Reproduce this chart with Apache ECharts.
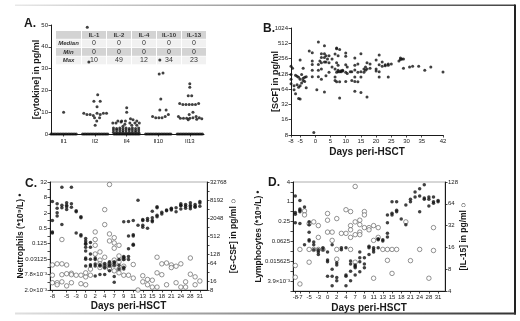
<!DOCTYPE html>
<html>
<head>
<meta charset="utf-8">
<script src="https://cdn.jsdelivr.net/npm/echarts@6/dist/echarts.min.js"></script>
<style>
  html, body { margin: 0; padding: 0; background: #fff; }
  #chart { width: 520px; height: 321px; }
</style>
</head>
<body>
<div id="chart"></div>
<script>
// ---- panel A: cytokines (offset within category, pg/ml) ----
const cytokines = ["Il1", "Il2", "Il4", "Il10", "Il13"];
const zeroOffsets = [-0.4, -0.35, -0.3, -0.25, -0.2, -0.15, -0.1, -0.05, 0, 0.05, 0.1, 0.15, 0.2, 0.25, 0.3, 0.35, 0.4];
const il1 = [[0, 10]];
const il2 = [[-0.25, 49], [-0.2, 33], [0.08, 18], [-0.04, 15], [0.16, 15], [0.06, 12.5], [-0.36, 9.5], [-0.26, 9],
  [-0.16, 9], [-0.06, 8.5], [0.06, 9.5], [0.16, 9], [0.26, 9.5], [0.36, 9.5], [-0.02, 7.5], [0.14, 7.5], [0.05, 6], [0, 4]];
const il4 = [[0, 12], [0, 10], [0.12, 7], [-0.28, 6], [-0.16, 6], [-0.04, 6], [0.32, 6], [0.2, 6.5], [-0.44, 5], [-0.34, 5],
  [-0.18, 5.5], [0.1, 5], [0.26, 5], [0.4, 5], [-0.06, 4.5], [0.16, 4], [-0.12, 3.5], [0.32, 4],
  [-0.42, 0.8], [-0.42, 1.8], [-0.42, 2.8], [-0.32, 0.8], [-0.32, 1.8], [-0.32, 2.5], [-0.22, 0.8], [-0.22, 1.8], [-0.22, 2.8],
  [-0.12, 0.8], [-0.12, 1.6], [-0.12, 2.5], [-0.02, 0.8], [-0.02, 1.8], [-0.02, 2.8], [0.08, 0.8], [0.08, 1.8], [0.08, 2.5],
  [0.18, 0.8], [0.18, 1.8], [0.18, 2.8], [0.28, 0.8], [0.28, 1.6], [0.28, 2.5], [0.38, 0.8], [0.38, 1.8], [0.38, 2.8]];
const il10 = [[0.05, 34], [0.15, 28], [0.03, 27.5], [0.08, 16], [0.05, 11], [0.25, 11], [0.32, 9], [-0.18, 8],
  [-0.08, 7.5], [0.02, 7.5], [0.12, 7.5], [0.22, 8]];
const il13 = [[0, 23], [0, 21.5], [-0.05, 17.5], [0.06, 17.5], [-0.32, 14], [-0.22, 13.5], [-0.12, 13.5], [-0.02, 13.5],
  [0.08, 13.5], [0.18, 13.5], [0.28, 14], [0.1, 10], [-0.02, 9], [-0.36, 8], [-0.3, 7.2], [-0.2, 7.2], [-0.1, 7.2],
  [0, 7.2], [0.1, 7.5], [0.2, 8], [0.3, 7.5], [0.38, 7], [-0.05, 6.5], [0.22, 6.8]];

// summary table inside panel A
const tableHeads = ["IL-1", "IL-2", "IL-4", "IL-10", "IL-13"];
const tableRows = ["Median", "Min", "Max"];
const medians = [0, 0, 0, 0, 0];
const mins = [0, 0, 0, 0, 0];
const maxs = [10, 49, 12, 34, 23];

// ---- panel B: SCF (day, pg/ml) ----
const bTicks = [-8, -5, 0, 5, 10, 15, 20, 25, 30, 35, 42];
const bYTicks = [8, 16, 32, 64, 128, 256, 512, 1024];
const scf = [[-8, 180], [-8, 124], [-8, 82], [-8, 100], [-7.5, 165], [-7, 75], [-7, 62], [-6.5, 120], [-6.5, 52], [-6, 78],
  [-6, 115], [-5.5, 42], [-5.5, 70], [-5.5, 110], [-5, 240], [-5, 100], [-5, 41], [-5, 75], [-4.5, 85], [-4.5, 125],
  [-4, 95], [-4, 165], [-4, 105], [-3.5, 110], [-3.5, 90], [-3, 68], [-3, 112], [-2, 360], [-1, 335], [-1, 230],
  [-1, 195], [-1, 150], [-1, 112], [-0.5, 9], [0.5, 62], [1, 540], [1, 195], [1, 150], [1, 112], [1.5, 230], [2, 320],
  [2, 270], [2, 213], [2, 160], [2, 100], [3, 460], [3, 320], [3, 270], [3, 220], [3, 56], [3.5, 290], [3.5, 220],
  [3.5, 118], [4, 250], [4.5, 290], [4.5, 213], [4.5, 137], [5.5, 250], [5.5, 175], [6.5, 314], [6.5, 160], [6.5, 111],
  [6.5, 95], [7, 415], [7, 400], [7, 213], [7, 137], [7, 89], [7.5, 290], [7.5, 190], [7.5, 141], [7.5, 150], [8, 385],
  [8, 141], [8, 89], [8, 43], [8.5, 148], [8.5, 141], [9, 150], [9, 145], [10, 330], [10, 284], [10, 194], [10, 137],
  [10, 91], [10.5, 175], [10.5, 130], [11.5, 141], [12, 141], [12, 95], [13, 263], [13, 190], [13, 152], [13, 111],
  [13, 91], [13, 58], [14, 200], [14, 137], [14, 89], [15, 320], [15, 141], [15, 111], [15, 55], [16, 160], [16, 137],
  [16.5, 175], [16.5, 150], [17, 213], [17, 160], [17, 45], [18, 200], [18, 165], [20, 240], [20, 160], [20, 145],
  [21, 300], [21, 194], [21, 141], [21, 111], [22, 220], [22, 180], [23, 194], [23, 185], [24, 200], [24, 111],
  [24, 190], [25, 200], [27.5, 230], [28, 263], [28, 245], [28.5, 250], [29, 250], [29, 165], [31, 175], [32, 180],
  [34, 180], [36, 150], [38, 175], [42, 140]];

// ---- panels C and D: sampled days (ordinal axis) ----
const days = [-8, -7, -6, -5, -4, -3, -1, 0, 1, 2, 3, 4, 5, 7, 8, 9, 10, 11, 12, 13, 14, 15, 16, 18, 20, 21, 22, 24, 26, 28, 30, 31];
const cLabelDays = [-8, -5, -3, 0, 2, 4, 7, 9, 11, 13, 15, 18, 21, 24, 28, 31];
const dLabelDays = [-7, -5, -3, 0, 2, 4, 7, 9, 11, 13, 15, 18, 21, 24, 28, 31];
const dExtraLabelDays = [-8]; // squeezed against -7 in the original

const cLeftTicks = [0.001953125, 0.0078125, 0.03125, 0.125, 0.5, 2, 8, 32];
const cLeftText = ["2.0×10⁻³", "7.8×10⁻³", "0.03125", "0.125", "0.5", "2", "8", "32"];
const cRightTicks = [8, 16, 64, 128, 512, 2048, 8192, 32768];
const dLeftTicks = [0.00390625, 0.015625, 0.0625, 0.25, 1, 4];
const dLeftText = ["3.9×10⁻³", "0.015625", "0.0625", "0.25", "1", "4"];
const dRightTicks = [4, 8, 16, 32, 64, 128];

// neutrophils (*10^9/L) and G-CSF (pg/ml)
const neutro = [[-8, 1], [-8, 0.33], [-8, 0.36], [-8, 5.5], [-7, 4.5], [-7, 3], [-7, 2], [-7, 1.5], [-6, 20], [-6, 3.2],
  [-6, 4], [-6, 0.7], [-5, 5], [-5, 3.5], [-5, 2.7], [-5, 4], [-4, 20], [-4, 4.5], [-4, 3.3], [-3, 2.2], [-3, 2.4],
  [-3, 0.33], [-1, 1.3], [-1, 1.4], [-1, 0.25], [-1, 0.28], [0, 0.2], [0, 0.16], [0, 0.13], [0, 0.09], [0, 0.065],
  [0, 0.035], [0, 0.031], [0, 0.017], [0, 0.12], [1, 0.14], [1, 0.09], [1, 0.05], [1, 0.031], [1, 0.017], [1, 0.019],
  [2, 0.035], [2, 0.02], [2, 0.017], [2, 0.0068], [2, 0.03], [3, 0.017], [3, 0.019], [3, 0.0078], [4, 0.017], [4, 0.021],
  [4, 0.014], [4, 0.0078], [5, 0.017], [5, 0.025], [5, 0.011], [5, 0.02], [7, 0.022], [7, 0.018], [7, 0.0065],
  [7, 0.0039], [7, 0.025], [8, 0.013], [8, 0.03], [8, 0.018], [9, 0.013], [9, 0.015], [9, 0.03], [9, 0.035], [9, 0.9],
  [9, 0.04], [10, 0.04], [10, 0.08], [10, 0.25], [10, 0.93], [10, 0.03], [11, 0.11], [11, 0.12], [11, 0.28], [11, 1],
  [11, 0.25], [12, 6.2], [12, 0.65], [13, 0.65], [13, 1], [13, 0.55], [13, 1.1], [14, 0.5], [14, 1], [14, 1.2],
  [15, 2.3], [15, 1], [15, 1.3], [15, 0.9], [16, 1.6], [16, 1.4], [16, 3.5], [16, 3.2], [18, 1.8], [18, 2.1], [20, 2.4],
  [20, 2.6], [21, 2.6], [21, 2.8], [21, 3], [22, 2.2], [22, 3.2], [24, 4], [24, 4.5], [24, 3.8], [24, 2.8], [26, 4.2],
  [26, 3.6], [26, 3], [28, 5], [28, 4], [28, 3.5], [28, 2.9], [30, 3.6], [30, 4.2], [30, 3.3], [31, 4.8], [31, 5.5], [31, 3.6]];
const gcsf = [[-8, 55], [-8, 14], [-8, 25], [-7, 60], [-7, 14], [-7, 12], [-6, 60], [-6, 390], [-6, 26], [-6, 15],
  [-5, 55], [-5, 28], [-5, 11], [-4, 29], [-4, 14], [-4, 26], [-3, 25], [-1, 25], [-1, 13], [0, 22], [0, 12], [0, 30],
  [1, 40], [1, 25], [2, 700], [2, 390], [2, 250], [2, 128], [3, 150], [3, 80], [3, 60], [3, 45], [4, 3900], [4, 1230],
  [4, 100], [4, 50], [5, 27000], [5, 600], [5, 350], [5, 60], [5, 45], [5, 40], [7, 450], [7, 300], [7, 200], [7, 80],
  [7, 55], [7, 35], [8, 250], [8, 110], [8, 70], [8, 40], [8, 30], [9, 90], [9, 50], [9, 25], [10, 25], [11, 57],
  [11, 20], [12, 8], [13, 15], [13, 24], [14, 18], [14, 12], [15, 17], [15, 10], [16, 100], [16, 30], [16, 10], [18, 26],
  [18, 60], [20, 64], [20, 12], [21, 55], [21, 45], [22, 50], [22, 14], [24, 60], [24, 10], [26, 10], [26, 15], [28, 94],
  [28, 27], [30, 22], [30, 12], [31, 16]];

// lymphocytes (*10^9/L) and IL-15 (pg/ml)
const lympho = [[-8, 1.5], [-8, 0.47], [-8, 0.42], [-8, 0.23], [-7, 1.1], [-7, 0.5], [-7, 0.55], [-7, 0.22], [-7, 0.6],
  [-6, 0.05], [-6, 0.7], [-5, 0.25], [-5, 0.2], [-5, 0.12], [-5, 0.065], [-5, 0.07], [-4, 0.06], [-4, 0.035], [-4, 0.05],
  [-3, 0.03], [-3, 0.025], [-3, 0.035], [-1, 0.035], [-1, 0.04], [0, 0.017], [0, 0.0055], [0, 0.03], [0, 0.015],
  [1, 0.0055], [1, 0.0028], [1, 0.05], [1, 0.009], [2, 0.014], [2, 0.012], [2, 0.005], [2, 0.004], [3, 0.04], [3, 0.035],
  [4, 0.0055], [4, 0.006], [4, 0.04], [4, 0.0028], [5, 0.0078], [5, 0.004], [5, 0.016], [5, 0.013], [7, 0.01], [7, 0.012],
  [7, 0.006], [7, 0.011], [8, 0.03], [8, 0.02], [8, 0.015], [8, 0.0075], [9, 0.02], [9, 0.013], [9, 0.01], [10, 0.04],
  [10, 0.045], [10, 0.025], [11, 0.035], [11, 0.04], [11, 0.03], [12, 0.07], [12, 0.075], [12, 0.04], [13, 0.07],
  [13, 0.065], [14, 0.085], [14, 0.11], [14, 0.4], [14, 0.23], [15, 0.4], [15, 1], [15, 0.45], [16, 1], [16, 0.5],
  [16, 0.55], [18, 0.3], [20, 0.2], [20, 0.8], [21, 1], [21, 1.2], [22, 2], [22, 1.4], [24, 1.5], [24, 2.5], [24, 0.5],
  [26, 1.3], [26, 1.2], [26, 3.3], [28, 1.4], [28, 0.75], [28, 1.2], [30, 1], [30, 1.4], [30, 0.9], [31, 1], [31, 1.1]];
const il15 = [[-8, 9], [-8, 6.2], [-7, 15], [-7, 5], [-6, 51], [-6, 45], [-5, 34], [-5, 15], [-5, 10], [-4, 36], [-4, 15],
  [-3, 32], [-3, 22], [-3, 15], [-1, 15], [0, 47], [0, 38], [0, 26], [1, 26], [1, 20], [2, 40], [2, 15], [2, 11], [3, 25],
  [4, 53], [4, 25], [5, 50], [5, 32], [5, 28], [5, 22], [5, 15], [7, 111], [7, 10], [7, 36], [7, 24], [8, 38], [8, 33],
  [8, 26], [8, 24], [9, 50], [9, 45], [9, 30], [10, 30], [10, 28], [11, 32], [11, 20], [11, 6], [12, 30], [12, 22],
  [13, 15], [14, 15], [14, 10.6], [15, 7], [15, 15], [16, 15], [20, 36], [21, 10.5], [24, 15], [28, 6], [30, 30], [30, 14.5]];

// ---------------------------------------------------------------
const FONT = "Liberation Sans, Arial, sans-serif";
const INK = "#1a1a1a";

function merge(a, b) {
  const out = Object.assign({}, a);
  for (const k in b) {
    if (b[k] && typeof b[k] === "object" && !Array.isArray(b[k]) && a[k] && typeof a[k] === "object") {
      out[k] = merge(a[k], b[k]);
    } else out[k] = b[k];
  }
  return out;
}

const axisBase = {
  axisLine: { show: true, onZero: false, lineStyle: { color: INK, width: 1 } },
  axisTick: { show: true, length: 2.5, lineStyle: { color: INK, width: 0.8 } },
  axisLabel: { fontSize: 6, color: INK, margin: 3, fontFamily: FONT, hideOverlap: false },
  splitLine: { show: false },
  nameLocation: "middle",
  nameMoveOverlap: false,
  nameTextStyle: { fontSize: 9, fontWeight: "bold", color: INK, fontFamily: FONT },
};
const ax = (extra) => merge(axisBase, extra);

function tickFmt(vals, texts) {
  return (v) => {
    const k = vals.findIndex((t) => Math.abs(t - v) / t < 1e-6);
    return k < 0 ? "" : String(texts ? texts[k] : vals[k]);
  };
}

const catDays = days.map(String).concat([""]);
const showDays = (list) => (idx) => list.includes(days[idx]);
const toCat = (arr) => arr.map((p) => [String(p[0]), p[1]]);

const aData = [];
[il1, il2, il4, il10, il13].forEach((pts, ci) => {
  zeroOffsets.forEach((o) => aData.push([ci + o, 0]));
  pts.forEach((p) => aData.push([ci + p[0], p[1]]));
});

// table graphic for panel A
const colX = [56, 82, 107, 132, 157, 182];
const colW = [26, 25, 25, 25, 25, 25];
const rowY = [31, 39.5, 48, 56.5];
const rowFill = ["#d3d3d3", "#f1f1f1", "#d3d3d3", "#f1f1f1"];
const tableEls = [];
const rowVals = [medians, mins, maxs];
for (let r = 0; r < 4; r++) {
  for (let c = 0; c < 6; c++) {
    tableEls.push({
      type: "rect", z: -1,
      shape: { x: colX[c], y: rowY[r], width: colW[c] - 1, height: 7.8 },
      style: { fill: rowFill[r] },
    });
    let txt = "";
    let font = "6px " + FONT;
    if (r === 0 && c > 0) { txt = tableHeads[c - 1]; font = "bold 6px " + FONT; }
    if (r > 0 && c === 0) { txt = tableRows[r - 1]; font = "italic bold 6px " + FONT; }
    if (r > 0 && c > 0) { txt = String(rowVals[r - 1][c - 1]); font = "7px " + FONT; }
    if (txt) {
      tableEls.push({
        type: "text", z: -1,
        style: { text: txt, x: colX[c] + (colW[c] - 1) / 2, y: rowY[r] + 4, align: "center", verticalAlign: "middle", font: font, fill: "#333" },
      });
    }
  }
}

const grad = (c0, c1) => new echarts.graphic.LinearGradient(0, 0, 1, 0, [{ offset: 0, color: c0 }, { offset: 1, color: c1 }]);
const letter = (t, x, y) => ({ type: "text", style: { text: t, x: x, y: y, font: "bold 12px " + FONT, fill: INK, verticalAlign: "middle" } });

const openDot = { color: "#fff", borderColor: "#555", borderWidth: 0.8 };

const chart = echarts.init(document.getElementById("chart"), null, { renderer: "canvas" });
chart.setOption({
  animation: false,
  backgroundColor: "#fff",
  textStyle: { fontFamily: FONT },
  grid: [
    { left: 51, top: 25, width: 153, height: 109, outerBoundsMode: "none" },
    { left: 291, top: 28, width: 152, height: 107, outerBoundsMode: "none" },
    { left: 50, top: 182, width: 157, height: 108, show: true, borderColor: "#999", borderWidth: 0.8, outerBoundsMode: "none" },
    { left: 293, top: 182, width: 152, height: 109, show: true, borderColor: "#999", borderWidth: 0.8, outerBoundsMode: "none" },
  ],
  xAxis: [
    ax({ gridIndex: 0, type: "value", min: -0.4, max: 4.45,
      axisLabel: { customValues: [0, 1, 2, 3, 4], formatter: (v) => cytokines[Math.round(v)], margin: 4 },
      axisTick: { customValues: [0, 1, 2, 3, 4] } }),
    ax({ gridIndex: 1, type: "value", min: -8, max: 42, name: "Days peri-HSCT", nameGap: 12,
      nameTextStyle: { fontSize: 10 },
      axisLabel: { customValues: bTicks }, axisTick: { customValues: bTicks } }),
    ax({ gridIndex: 2, type: "category", data: catDays, boundaryGap: true, name: "Days peri-HSCT", nameGap: 11,
      nameTextStyle: { fontSize: 10 },
      axisLabel: { interval: showDays(cLabelDays) }, axisTick: { alignWithLabel: true, interval: showDays(cLabelDays) } }),
    ax({ gridIndex: 3, type: "category", data: catDays, boundaryGap: true, name: "Days peri-HSCT", nameGap: 12,
      nameTextStyle: { fontSize: 10 },
      axisLabel: { interval: showDays(dLabelDays) }, axisTick: { alignWithLabel: true, interval: showDays(dLabelDays) } }),
    // second label row for D so the crowded "-8" is not dropped
    ax({ gridIndex: 3, type: "category", data: catDays, boundaryGap: true, position: "bottom",
      axisLine: { show: false },
      axisLabel: { interval: showDays(dExtraLabelDays) }, axisTick: { alignWithLabel: true, interval: showDays(dExtraLabelDays) } }),
  ],
  yAxis: [
    ax({ gridIndex: 0, type: "value", min: 0, max: 50, interval: 10, name: "[cytokine] in pg/ml", nameGap: 10, nameRotate: 90 }),
    ax({ gridIndex: 1, type: "log", logBase: 2, min: 8, max: 1024, interval: 1, name: "[SCF] in pg/ml", nameGap: 11, nameRotate: 90,
      axisLabel: { formatter: tickFmt(bYTicks) } }),
    ax({ gridIndex: 2, type: "log", logBase: 2, min: Math.pow(2, -9), max: 32, interval: 1,
      name: "Neutrophils (*10⁹/L) •", nameGap: 25, nameRotate: 90, nameTextStyle: { fontSize: 8.5 },
      axisLabel: { formatter: tickFmt(cLeftTicks, cLeftText) } }),
    ax({ gridIndex: 2, type: "log", logBase: 2, min: 8, max: 32768, interval: 1, position: "right",
      name: "[G-CSF] in pg/ml ○", nameGap: 22, nameRotate: 90, nameTextStyle: { fontSize: 8.5 },
      axisLabel: { formatter: tickFmt(cRightTicks) } }),
    ax({ gridIndex: 3, type: "log", logBase: 2, min: Math.pow(2, -9), max: 4, interval: 1,
      name: "Lymphocytes (*10⁹/L) •", nameGap: 30, nameRotate: 90, nameTextStyle: { fontSize: 8.5 },
      axisLabel: { formatter: tickFmt(dLeftTicks, dLeftText) } }),
    ax({ gridIndex: 3, type: "log", logBase: 2, min: 4, max: 128, interval: 1, position: "right",
      name: "[IL-15] in pg/ml ○", nameGap: 14, nameRotate: 90, nameTextStyle: { fontSize: 8.5 },
      axisLabel: { formatter: tickFmt(dRightTicks) } }),
  ],
  series: [
    { type: "scatter", xAxisIndex: 0, yAxisIndex: 0, data: aData, symbolSize: 3, itemStyle: { color: "#111" } },
    { type: "scatter", xAxisIndex: 1, yAxisIndex: 1, data: scf, symbolSize: 3, itemStyle: { color: "#111" } },
    { type: "scatter", xAxisIndex: 2, yAxisIndex: 3, data: toCat(gcsf), symbolSize: 4.5, itemStyle: openDot },
    { type: "scatter", xAxisIndex: 2, yAxisIndex: 2, data: toCat(neutro), symbolSize: 3.5, itemStyle: { color: "#111" } },
    { type: "scatter", xAxisIndex: 3, yAxisIndex: 5, data: toCat(il15), symbolSize: 4.5, itemStyle: openDot },
    { type: "scatter", xAxisIndex: 3, yAxisIndex: 4, data: toCat(lympho), symbolSize: 3.5, itemStyle: { color: "#111" } },
  ],
  graphic: [
    { type: "rect", shape: { x: 15, y: 4.5, width: 500, height: 1.5 }, style: { fill: grad("#e8e8e8", "#444") } },
    { type: "rect", shape: { x: 514, y: 4.5, width: 2, height: 310 }, style: { fill: "#222" } },
    { type: "rect", shape: { x: 15, y: 312.5, width: 501, height: 2 }, style: { fill: grad("#e0e0e0", "#333") } },
    letter("A.", 24, 24),
    letter("B.", 263, 29),
    letter("C.", 25, 184),
    letter("D.", 268, 183),
    { type: "group", z: -1, children: tableEls },
  ],
});
</script>
</body>
</html>
